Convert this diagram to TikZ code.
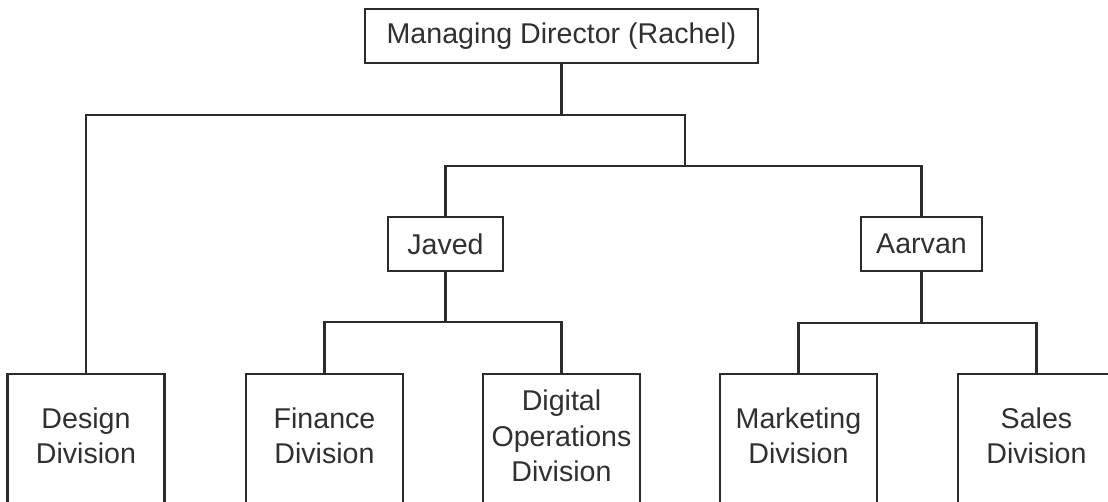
\documentclass[tikz,border=0pt]{standalone}
\usepackage{fontspec}
\setmainfont{Liberation Sans}
\definecolor{linegray}{HTML}{2B2B2B}
\definecolor{textgray}{HTML}{303030}
\begin{document}
\begin{tikzpicture}[x=1pt,y=-1pt,color=linegray,line width=2.2pt,
    person/.style={draw,minimum height=54pt,inner sep=0pt,text=textgray,
      font=\fontsize{28.6}{35.5}\selectfont},
    division/.style={draw,anchor=north,minimum width=157pt,minimum height=150pt},
    divtext/.style={align=center,text=textgray,inner sep=0pt,
      font=\fontsize{28.6}{35.5}\selectfont}]
      \useasboundingbox (0,0) rectangle (1108,502);
      \clip (0,0) rectangle (1108,502);
      \node[person,minimum width=393pt] (md) at (561.5,36) {Managing Director (Rachel)};
      \node[person,minimum width=115pt] (javed) at (445.5,244) {Javed};
      \node[person,minimum width=121pt] (aarvan) at (921.5,244) {Aarvan};
      \node[division] (design) at (86,373) {};
      \node[division] (finance) at (324.5,373) {};
      \node[division] (digital) at (561.5,373) {};
      \node[division] (marketing) at (798.5,373) {};
      \node[division] (sales) at (1036.5,373) {};
      \node[divtext,yshift=-63pt] (design text) at (design.north) {Design\\Division};
      \node[divtext,yshift=-63pt] (finance text) at (finance.north) {Finance\\Division};
      \node[divtext,yshift=-63pt] (digital text) at (digital.north) {Digital\\Operations\\Division};
      \node[divtext,yshift=-63pt] (marketing text) at (marketing.north) {Marketing\\Division};
      \node[divtext,yshift=-63pt] (sales text) at (sales.north) {Sales\\Division};
      \coordinate (bar1) at (685,115);
      \coordinate (bar2) at (685,166);
      \coordinate (jbar) at (445.5,322);
      \coordinate (abar) at (921.5,323);
      \draw (md.south) -- (md.south |- bar1);
      \draw (design.north) |- (bar1) -- (bar2);
      \draw (javed.north) |- (bar2) -| (aarvan.north);
      \draw (javed.south) -- (jbar);
      \draw (finance.north) |- (jbar) -| (digital.north);
      \draw (aarvan.south) -- (abar);
      \draw (marketing.north) |- (abar) -| (sales.north);
\end{tikzpicture}
\end{document}
